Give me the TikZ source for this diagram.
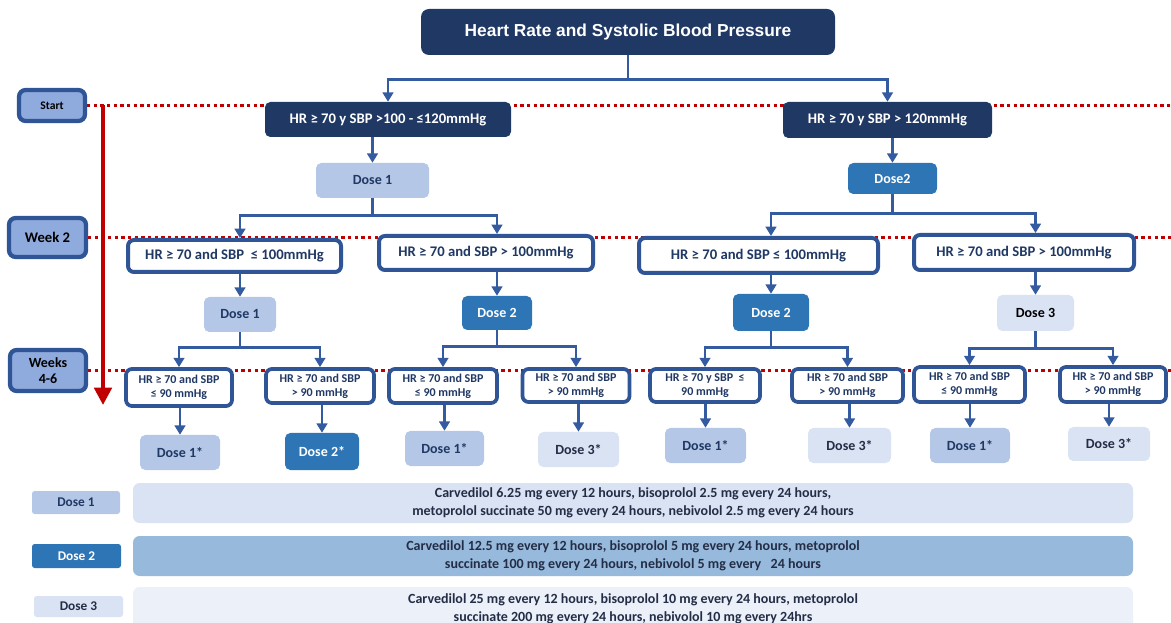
\documentclass[tikz,border=0pt]{standalone}
\usepackage{fontspec}
\setmainfont{Carlito}
\newfontfamily\titlefont{Liberation Sans}
\usetikzlibrary{arrows.meta,backgrounds,calc}

\definecolor{navy}{RGB}{32,56,100}
\definecolor{bordblue}{RGB}{47,85,151}
\definecolor{linkblue}{RGB}{52,90,160}
\definecolor{lblfill}{RGB}{143,170,220}
\definecolor{doseA}{RGB}{180,199,231}
\definecolor{doseB}{RGB}{46,117,182}
\definecolor{doseC}{RGB}{218,227,243}
\definecolor{barB}{RGB}{151,185,219}
\definecolor{barC}{RGB}{236,240,248}
\definecolor{darkred}{RGB}{192,0,0}
\definecolor{legtext}{RGB}{35,45,70}

\begin{document}
\begin{tikzpicture}[
  x=0.75pt, y=-0.75pt,
  font=\bfseries,
  sz/.style 2 args={minimum width=#1*0.75pt, minimum height=#2*0.75pt},
  ttl/.style={
    fill=navy,
    rounded corners=6pt,
    text=white,
    inner sep=0pt,
    font=\titlefont\bfseries\fontsize{13}{15}\selectfont
  },
  lbl/.style={
    draw=bordblue,
    fill=lblfill,
    line width=3.2pt,
    rounded corners=5pt,
    align=center,
    inner sep=0pt,
    text=black,
    font=\bfseries\fontsize{10.5}{12.5}\selectfont
  },
  hdr/.style={
    fill=navy,
    rounded corners=4pt,
    text=white,
    inner sep=0pt,
    font=\bfseries\fontsize{11}{13}\selectfont
  },
  cond/.style={
    draw=bordblue,
    fill=white,
    line width=3pt,
    rounded corners=4.5pt,
    align=center,
    inner sep=0pt,
    text=navy,
    font=\bfseries\fontsize{11}{13}\selectfont
  },
  cond2/.style={cond, line width=2.8pt, font=\bfseries\fontsize{9}{10.5}\selectfont},
  dose/.style={
    rounded corners=4pt,
    inner sep=0pt,
    font=\bfseries\fontsize{10.5}{12}\selectfont
  },
  dA/.style={dose, fill=doseA, text=navy},
  dB/.style={dose, fill=doseB, text=white},
  dC/.style={dose, fill=doseC, text=legtext},
  key/.style={font=\bfseries\fontsize{10}{12}\selectfont, rounded corners=2pt},
  bar/.style={
    rounded corners=5pt,
    align=center,
    inner sep=0pt,
    text=legtext,
    font=\bfseries\fontsize{10.5}{13.5}\selectfont
  },
  link/.style={
    draw=linkblue,
    line width=2.2pt,
    -{Triangle[length=7pt,width=8pt]}
  },
  redline/.style={
    draw=darkred,
    line width=2.3pt,
    dash pattern=on 2.4pt off 2.6pt
  },
  redarrow/.style={
    draw=darkred,
    line width=3pt,
    -{Triangle[length=13pt,width=13pt]}
  }
]

\useasboundingbox (0,0) rectangle (1171,623);

\node[ttl, sz={414}{46}] (title) at (628,32)
  {Heart Rate and Systolic Blood Pressure};

\node[lbl, sz={66}{31}, font=\bfseries\fontsize{8.7}{10}\selectfont] (start) at (52,105.5) {Start};
\node[lbl, sz={77}{39}, font=\bfseries\fontsize{11}{13}\selectfont] (week2) at (47.5,237.5) {Week 2};
\node[lbl, sz={76}{41}] (weeks) at (48,370.5) {Weeks\\4-6};

\node[hdr, sz={246}{35}] (hrA) at (388,119.5) {HR ≥ 70 y SBP >100 - ≤120mmHg};
\node[hdr, sz={209}{36}] (hrB) at (887.5,120) {HR ≥ 70 y SBP > 120mmHg};

\node[dA, sz={113}{35}] (d1a) at (372.5,180.5) {Dose 1};
\node[dB, sz={89}{31}] (d2a) at (892.5,178.5) {Dose2};

\node[cond, sz={213}{32}] (c1) at (234.5,256) {HR ≥ 70 and SBP \ ≤ 100mmHg};
\node[cond, sz={214}{34}] (c2) at (486,253) {HR ≥ 70 and SBP > 100mmHg};
\node[cond, sz={239}{35}] (c3) at (758.5,255.5) {HR ≥ 70 and SBP ≤ 100mmHg};
\node[cond, sz={220}{35}] (c4) at (1024,252.5) {HR ≥ 70 and SBP > 100mmHg};

\node[dA, sz={72}{35}] (d1b) at (240,314.5) {Dose 1};
\node[dB, sz={70}{34}] (d2b) at (497,313) {Dose 2};
\node[dB, sz={76}{37}] (d2c) at (771,312.5) {Dose 2};
\node[dC, sz={77}{36}, text=black] (d3a) at (1035.5,313) {Dose 3};

\node[cond2, sz={106}{37}] (e1) at (179,387.5) {HR ≥ 70 and SBP\\≤ 90 mmHg};
\node[cond2, sz={108}{34}] (e2) at (320,386) {HR ≥ 70 and SBP\\> 90 mmHg};
\node[cond2, sz={108}{34}] (e3) at (443,386) {HR ≥ 70 and SBP\\≤ 90 mmHg};
\node[cond2, sz={107}{33}] (e4) at (576,385.5) {HR ≥ 70 and SBP\\> 90 mmHg};
\node[cond2, sz={110}{33}] (e5) at (705,385.5) {HR ≥ 70 y SBP \ ≤\\90 mmHg};
\node[cond2, sz={111}{33}] (e6) at (847.5,385.5) {HR ≥ 70 and SBP\\> 90 mmHg};
\node[cond2, sz={111}{35}] (e7) at (969.5,384.5) {HR ≥ 70 and SBP\\≤ 90 mmHg};
\node[cond2, sz={106}{35}] (e8) at (1113,384.5) {HR ≥ 70 and SBP\\> 90 mmHg};

\node[dA, sz={80}{35}] (f1) at (180,452.5) {Dose 1*};
\node[dB, sz={74}{37}] (f2) at (322,451.5) {Dose 2*};
\node[dA, sz={79}{35}] (f3) at (444.5,448.5) {Dose 1*};
\node[dC, sz={81}{35}] (f4) at (578.5,449.5) {Dose 3*};
\node[dA, sz={81}{35}] (f5) at (705.5,445.5) {Dose 1*};
\node[dC, sz={83}{35}] (f6) at (849.5,445.5) {Dose 3*};
\node[dA, sz={80}{35}] (f7) at (970,445.5) {Dose 1*};
\node[dC, sz={82}{34}] (f8) at (1109,444) {Dose 3*};

\node[dA, key, sz={88}{23}] (k1) at (76,502.5) {Dose 1};
\node[dB, key, sz={89}{24}] (k2) at (76.5,556) {Dose 2};
\node[dC, key, sz={89}{21}] (k3) at (78.5,606.5) {Dose 3};

\node[bar, fill=doseC, sz={1000}{40}] (b1) at (633,503)
  {Carvedilol 6.25 mg every 12 hours, bisoprolol 2.5 mg every 24 hours,\\
   metoprolol succinate 50 mg every 24 hours, nebivolol 2.5 mg every 24 hours};
\node[bar, fill=barB, sz={1000}{40}] (b2) at (633,556)
  {Carvedilol 12.5 mg every 12 hours, bisoprolol 5 mg every 24 hours, metoprolol\\
   succinate 100 mg every 24 hours, nebivolol 5 mg every \ \ 24 hours};
\node[bar, fill=barC, sz={1000}{43}] (b3) at (633,608.5)
  {Carvedilol 25 mg every 12 hours, bisoprolol 10 mg every 24 hours, metoprolol\\
   succinate 200 mg every 24 hours, nebivolol 10 mg every 24hrs};

\coordinate (tTop) at (103,105);
\coordinate (tEnd) at (103,405);
\coordinate (rim) at (1171,0);

\begin{pgfonlayer}{background}
  \draw[redline] (start.east) -- (start.east -| rim);
  \draw[redline] (week2.east) -- (week2.east -| rim);
  \draw[redline] (weeks.east) -- (weeks.east -| rim);
\end{pgfonlayer}

\draw[redarrow] (tTop) -- (tEnd);

\draw[link] (title.south) -- ++(0,24) -| (hrA.north);
\draw[link] (title.south) -- ++(0,24) -| (hrB.north);
\draw[link] (hrA.south -| d1a.north) -- (d1a.north);
\draw[link] (hrB.south -| d2a.north) -- (d2a.north);

\draw[link] (d1a.south) -- ++(0,17) -| (c1.north -| d1b.north);
\draw[link] (d1a.south) -- ++(0,17) -| (c2.north -| d2b.north);
\draw[link] (d2a.south) -- ++(0,19) -| (c3.north -| d2c.north);
\draw[link] (d2a.south) -- ++(0,19) -| (c4.north -| d3a.north);

\draw[link] (c1.south -| d1b.north) -- (d1b.north);
\draw[link] (c2.south -| d2b.north) -- (d2b.north);
\draw[link] (c3.south -| d2c.north) -- (d2c.north);
\draw[link] (c4.south -| d3a.north) -- (d3a.north);

\draw[link] (d1b.south) -- ++(0,15) -| (e1.north);
\draw[link] (d1b.south) -- ++(0,15) -| (e2.north);
\draw[link] (d2b.south) -- ++(0,16) -| (e3.north);
\draw[link] (d2b.south) -- ++(0,16) -| (e4.north);
\draw[link] (d2c.south) -- ++(0,16) -| (e5.north);
\draw[link] (d2c.south) -- ++(0,16) -| (e6.north);
\draw[link] (d3a.south) -- ++(0,17) -| (e7.north);
\draw[link] (d3a.south) -- ++(0,17) -| (e8.north);

\draw[link] (e1.south -| f1.north) -- (f1.north);
\draw[link] (e2.south -| f2.north) -- (f2.north);
\draw[link] (e3.south -| f3.north) -- (f3.north);
\draw[link] (e4.south -| f4.north) -- (f4.north);
\draw[link] (e5.south -| f5.north) -- (f5.north);
\draw[link] (e6.south -| f6.north) -- (f6.north);
\draw[link] (e7.south -| f7.north) -- (f7.north);
\draw[link] (e8.south -| f8.north) -- (f8.north);

\end{tikzpicture}
\end{document}
